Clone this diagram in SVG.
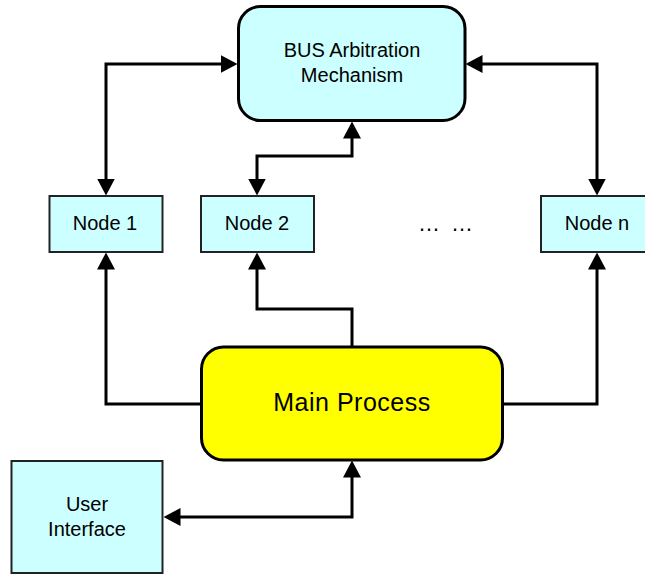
<svg xmlns="http://www.w3.org/2000/svg" width="645" height="574" viewBox="0 0 645 574">
  <style>
    .box { fill: #CCFFFF; stroke: #222; stroke-width: 2; }
    .big { stroke: #000; stroke-width: 3; }
    .bus { fill: #CCFFFF; }
    .main { fill: #FFFF00; }
    .lbl { font-family: "Liberation Sans", Arial, sans-serif; font-size: 20px; fill: #000; text-anchor: middle; }
    .dots { font-family: "Liberation Sans", Arial, sans-serif; font-size: 22px; word-spacing: 5px; fill: #000; }
    .mlbl { font-family: "Liberation Sans", Arial, sans-serif; font-size: 25px; letter-spacing: 0.5px; fill: #000; text-anchor: middle; }
    .conn { fill: none; stroke: #000; stroke-width: 3; stroke-linejoin: miter; }
  </style>
  <defs>
    <marker id="arr" markerUnits="userSpaceOnUse" viewBox="0 0 17 18" refX="0.5" refY="9" markerWidth="17" markerHeight="18" orient="auto-start-reverse">
      <path d="M0,0 L17,9 L0,18 Z" fill="#000"/>
    </marker>
  </defs>

  <g id="connectors">
    <path class="conn" d="M106,179 V64 H221" marker-start="url(#arr)" marker-end="url(#arr)"/>
    <path class="conn" d="M257,179 V156 H352 V138" marker-start="url(#arr)" marker-end="url(#arr)"/>
    <path class="conn" d="M597,179 V64 H482" marker-start="url(#arr)" marker-end="url(#arr)"/>
    <path class="conn" d="M201,404 H106 V269" marker-end="url(#arr)"/>
    <path class="conn" d="M352,347 V309 H257 V269" marker-end="url(#arr)"/>
    <path class="conn" d="M503,404 H597 V269" marker-end="url(#arr)"/>
    <path class="conn" d="M180,517 H352 V477" marker-start="url(#arr)" marker-end="url(#arr)"/>
  </g>

  <g id="bus">
    <rect class="bus big" x="238.5" y="6.5" width="226.5" height="114" rx="22" ry="22"/>
    <text class="lbl" x="352" y="57">BUS Arbitration</text>
    <text class="lbl" x="352" y="82">Mechanism</text>
  </g>

  <g id="node1">
    <rect class="box" x="49.5" y="196" width="113" height="56"/>
    <text class="lbl" x="105" y="230">Node 1</text>
  </g>

  <g id="node2">
    <rect class="box" x="201" y="196" width="113" height="56"/>
    <text class="lbl" x="257" y="230">Node 2</text>
  </g>

  <g id="ellipsis">
    <text class="dots" x="418" y="231">… …</text>
  </g>

  <g id="noden">
    <rect class="box" x="541" y="196" width="113" height="56"/>
    <text class="lbl" x="597" y="230">Node n</text>
  </g>

  <g id="main">
    <rect class="main big" x="201.5" y="347" width="301" height="113" rx="22" ry="22"/>
    <text class="mlbl" x="352" y="411">Main Process</text>
  </g>

  <g id="ui">
    <rect class="box" x="11.5" y="461" width="151" height="112"/>
    <text class="lbl" x="87" y="511">User</text>
    <text class="lbl" x="87" y="536">Interface</text>
  </g>
</svg>
